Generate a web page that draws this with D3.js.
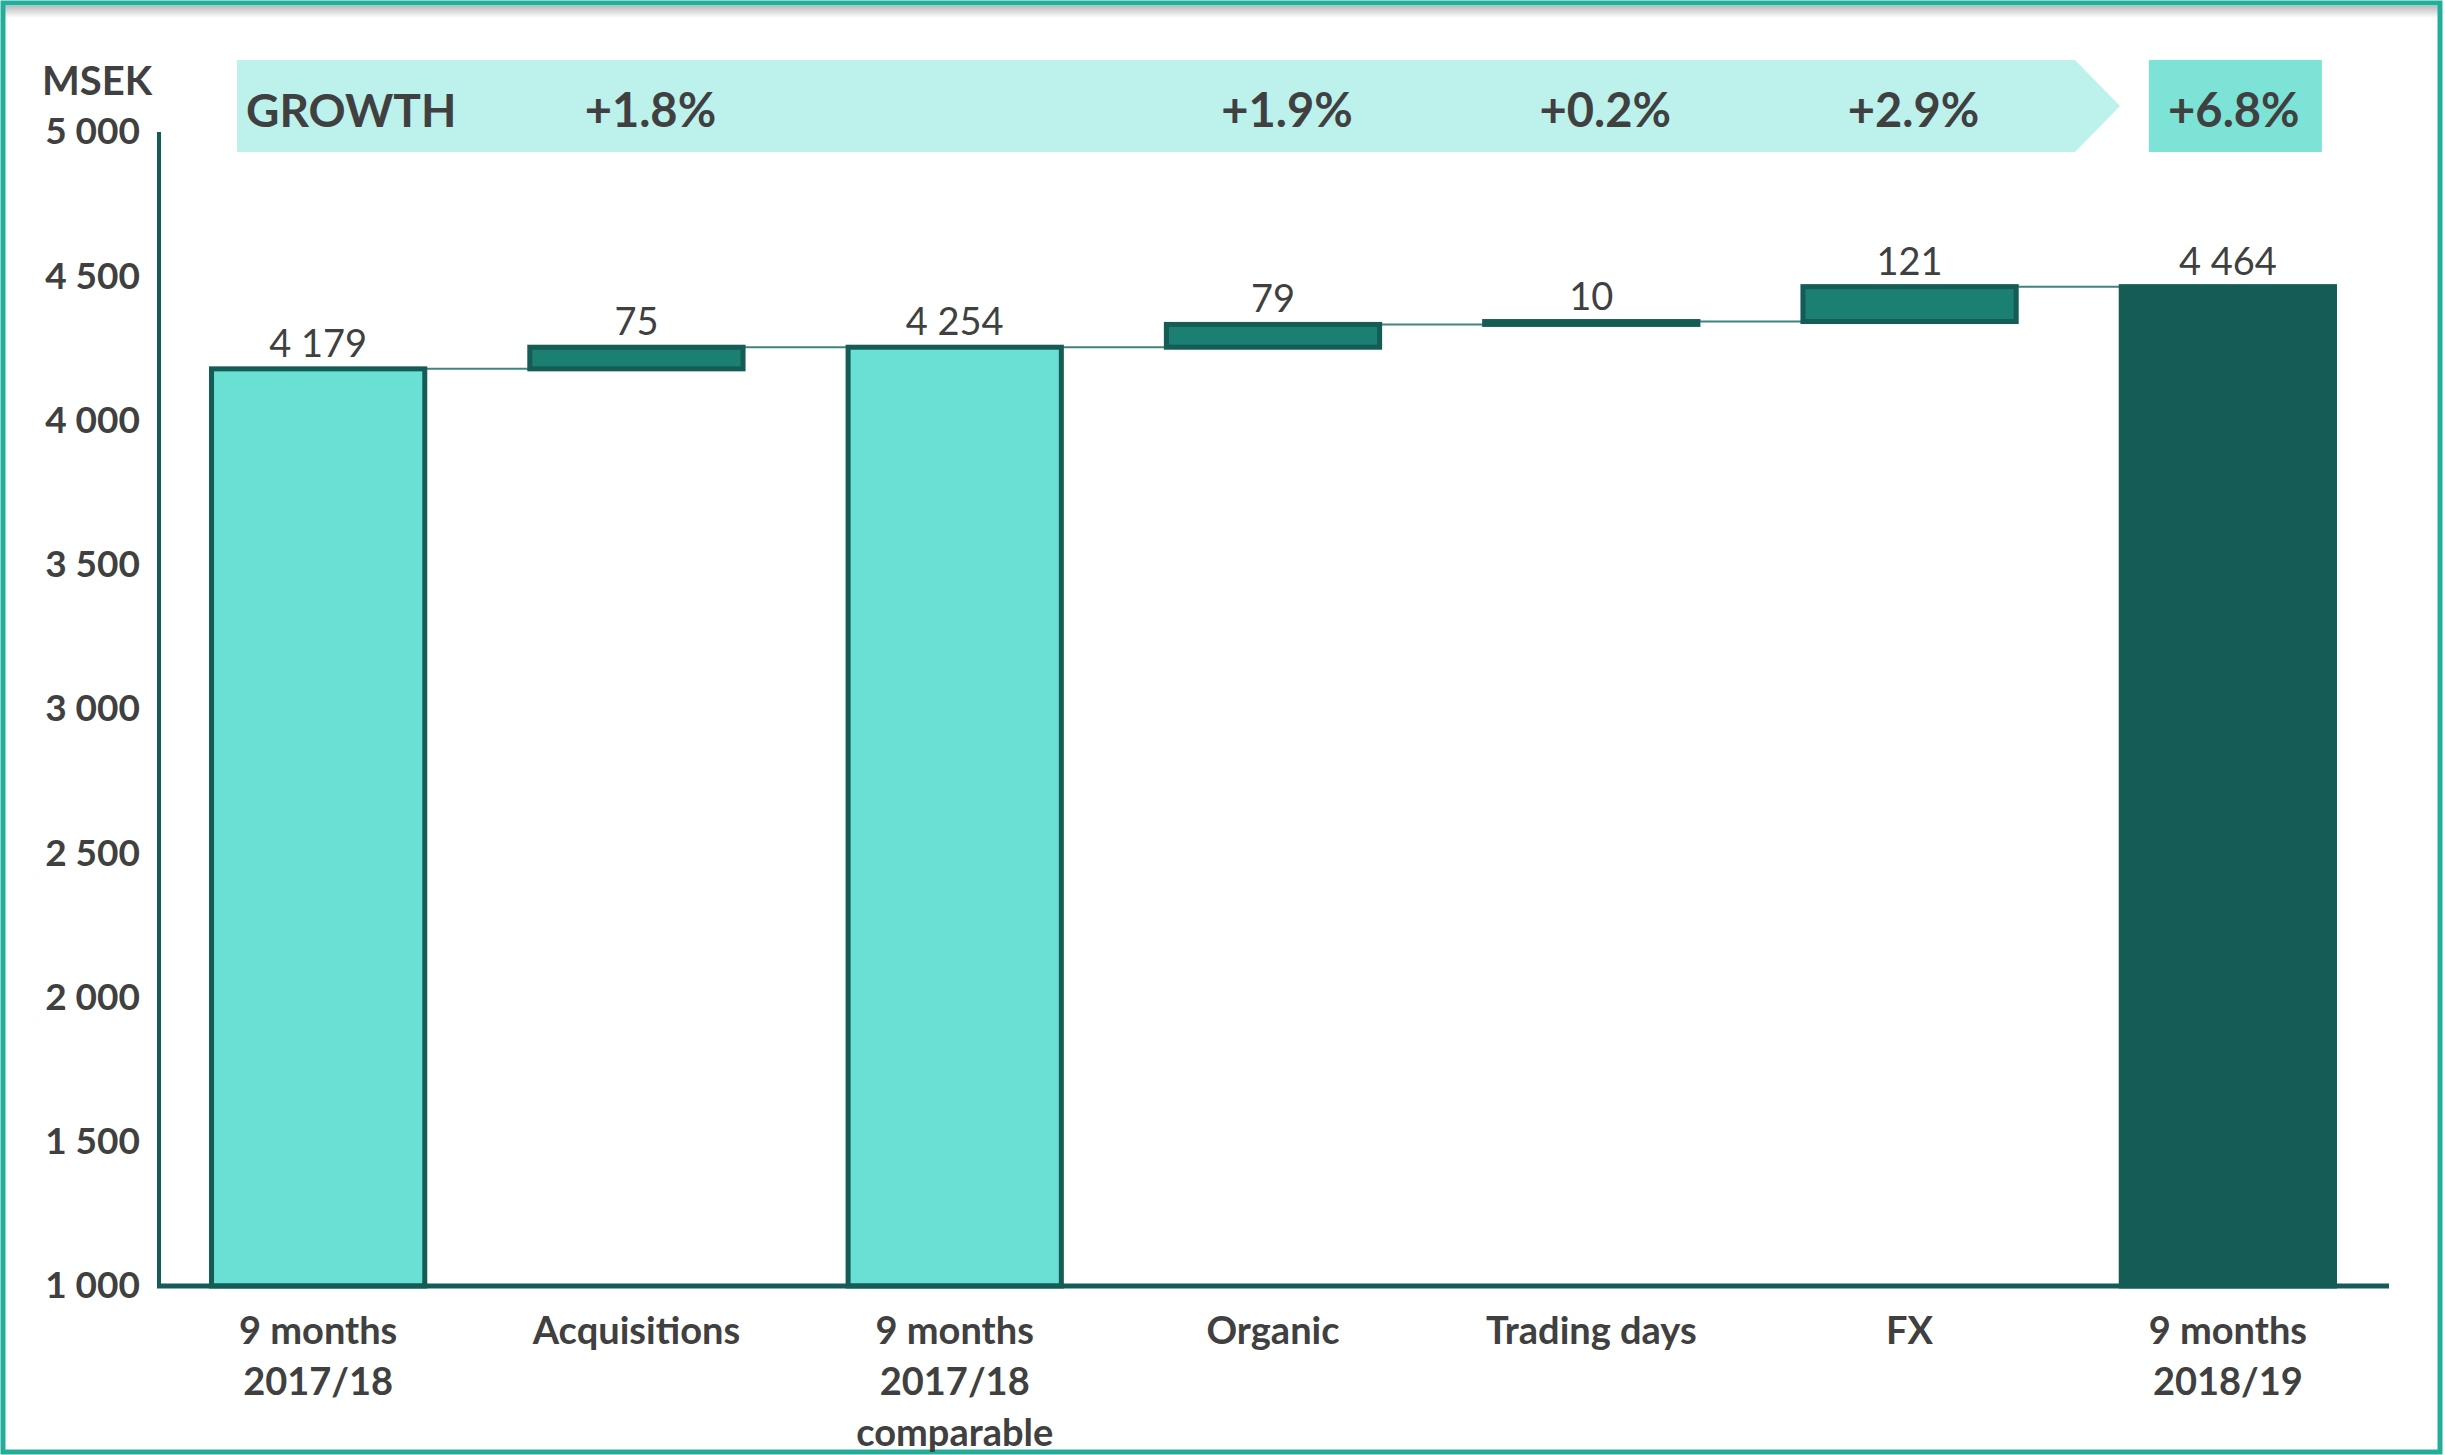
<!DOCTYPE html>
<html>
<head>
  <script src="https://d3js.org/d3.v7.min.js"></script>
  <style>
    body { margin: 0; background: #fff; }
    svg { display: block; font-family: Lato, 'Noto Sans', sans-serif; }
  </style>
</head>
<body>
  <svg width="2445" height="1455"></svg>
<script>
  // chart data
  var categories = [
    ["9 months", "2017/18"],
    ["Acquisitions"],
    ["9 months", "2017/18", "comparable"],
    ["Organic"],
    ["Trading days"],
    ["FX"],
    ["9 months", "2018/19"]
  ];
  var values = [4179, 75, 4254, 79, 10, 121, 4464];
  var kinds = ["total", "delta", "total", "delta", "delta", "delta", "final"];
  var growth = [null, "+1.8%", null, "+1.9%", "+0.2%", "+2.9%", "+6.8%"];
  var yTicks = [1000, 1500, 2000, 2500, 3000, 3500, 4000, 4500, 5000];

  var svg = d3.select("svg"),
    width = +svg.attr("width"),
    height = +svg.attr("height");

  var dark = "#145c55", mid = "#1b7f72", light = "#6adfd3", txt = "#404040";
  var loc = d3.formatLocale({ decimal: ".", thousands: "\u00a0", grouping: [3], currency: ["", ""] });
  var fmt = loc.format(",d");

  // waterfall bottoms / tops
  var bars = [], cum = 0;
  values.forEach(function (v, i) {
    if (kinds[i] == "delta") {
      bars.push({ i: i, y0: cum, y1: cum + v, v: v, kind: kinds[i] });
      cum += v;
    } else {
      bars.push({ i: i, y0: 1000, y1: v, v: v, kind: kinds[i] });
      cum = v;
    }
  });

  var x = d3.scaleBand().domain(d3.range(categories.length)).range([159, 2387]).paddingInner(0.33).paddingOuter(0.165);
  var y = d3.scaleLinear().domain([1000, 5000]).range([1286, 132]);

  // top shadow of the frame
  var defs = svg.append("defs");
  var grad = defs.append("linearGradient").attr("id", "shade").attr("x1", 0).attr("x2", 0).attr("y1", 0).attr("y2", 1);
  grad.append("stop").attr("offset", 0).attr("stop-color", "#bdbdbd");
  grad.append("stop").attr("offset", 1).attr("stop-color", "#ffffff");
  svg.append("rect").attr("x", 5).attr("y", 6).attr("width", width - 10).attr("height", 12).attr("fill", "url(#shade)");

  // growth banner
  var g = svg.append("g");
  g.append("path")
    .attr("d", "M237,60 L2075,60 L2120,106 L2075,152 L237,152 Z")
    .attr("fill", "#bdf1ec");
  g.append("rect").attr("x", x(6) + x.bandwidth() / 2 - 86 + 7).attr("y", 60).attr("width", 173).attr("height", 92).attr("fill", "#7de3d6");
  g.append("text").attr("x", 246).attr("y", 127).attr("font-size", 46).attr("font-weight", 700).attr("fill", txt).text("GROWTH");
  g.selectAll(".pct").data(growth.map(function (d, i) { return { t: d, i: i }; }).filter(function (d) { return d.t; }))
    .enter().append("text")
    .attr("x", function (d) { return x(d.i) + x.bandwidth() / 2 + (d.i == 6 ? 6 : d.i == 5 ? 4 : 14); })
    .attr("y", 127).attr("text-anchor", "middle")
    .attr("font-size", 47).attr("font-weight", 700).attr("fill", txt)
    .text(function (d) { return d.t; });

  // axis label
  svg.append("text").attr("x", 42).attr("y", 95).attr("font-size", 40).attr("font-weight", 700).attr("fill", txt).text("MSEK");

  // y axis
  var yAxis = d3.axisLeft(y).tickValues(yTicks).tickFormat(fmt).tickSize(0).tickPadding(19);
  var ya = svg.append("g").attr("transform", "translate(159,0)").call(yAxis);
  ya.select(".domain").remove();
  ya.selectAll("text").attr("font-size", 37).attr("font-weight", 700).attr("fill", txt).attr("font-family", "Lato, sans-serif");
  svg.append("line").attr("x1", 159).attr("x2", 159).attr("y1", y(5000)).attr("y2", y(1000)).attr("stroke", dark).attr("stroke-width", 4);

  // connectors
  var conn = [];
  for (var i = 0; i < bars.length - 1; i++) {
    conn.push({ x1: x(i) + x.bandwidth(), x2: x(i + 1), v: bars[i].kind == "delta" ? bars[i].y1 : bars[i].v });
  }
  svg.append("g").selectAll("line").data(conn).enter().append("line")
    .attr("x1", function (d) { return d.x1; }).attr("x2", function (d) { return d.x2; })
    .attr("y1", function (d) { return y(d.v); }).attr("y2", function (d) { return y(d.v); })
    .attr("stroke", "#3d857e").attr("stroke-width", 2);

  // bars
  svg.append("g").selectAll("rect").data(bars).enter().append("rect")
    .attr("x", function (d) { return x(d.i); })
    .attr("width", x.bandwidth())
    .attr("y", function (d) { return y(Math.max(d.y0, d.y1)); })
    .attr("height", function (d) { return Math.abs(y(d.y0) - y(d.y1)); })
    .attr("fill", function (d) { return d.kind == "total" ? light : d.kind == "delta" ? mid : dark; })
    .attr("stroke", dark).attr("stroke-width", 5);

  // x axis line
  svg.append("line").attr("x1", 157).attr("x2", 2389).attr("y1", y(1000)).attr("y2", y(1000)).attr("stroke", dark).attr("stroke-width", 5);

  // value labels
  svg.append("g").selectAll("text").data(bars).enter().append("text")
    .attr("x", function (d) { return x(d.i) + x.bandwidth() / 2; })
    .attr("y", function (d) { return y(Math.max(d.y0, d.y1)) - 12; })
    .attr("text-anchor", "middle").attr("font-size", 38).attr("fill", txt)
    .text(function (d) { return fmt(d.v); });

  // frame
  svg.append("rect").attr("x", 3).attr("y", 3).attr("width", width - 8).attr("height", height - 6)
    .attr("fill", "none").attr("stroke", "#22ae9b").attr("stroke-width", 5);

  // category labels
  var cl = svg.append("g").selectAll("text").data(categories).enter().append("text")
    .attr("x", function (d, i) { return x(i) + x.bandwidth() / 2; })
    .attr("y", 1344).attr("text-anchor", "middle")
    .attr("font-size", 38).attr("font-weight", 700).attr("fill", txt);
  cl.selectAll("tspan").data(function (d) { return d; }).enter().append("tspan")
    .attr("x", function () { return this.parentNode.getAttribute("x"); })
    .attr("dy", function (d, j) { return j ? 51 : 0; })
    .text(function (d) { return d; });
</script>
</body>
</html>
